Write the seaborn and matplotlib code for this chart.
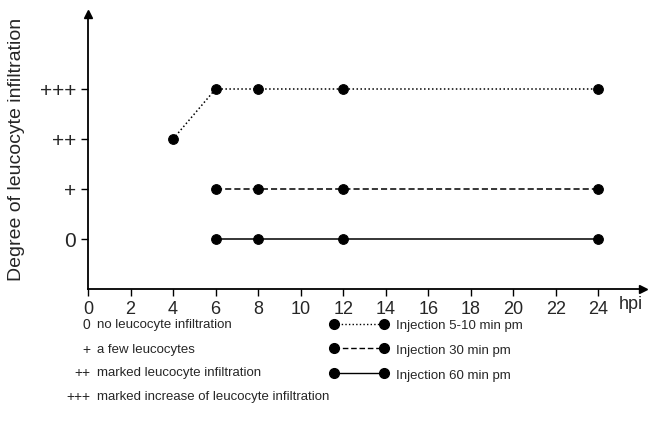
import numpy as np
import pandas as pd
import matplotlib
matplotlib.use("Agg")
import matplotlib.pyplot as plt
from matplotlib.lines import Line2D
import seaborn as sns

# ── data ──────────────────────────────────────────────────────────────
hpi_5_10 = [4, 6, 8, 12, 24]
deg_5_10 = [2, 3, 3, 3, 3]
hpi_30 = [6, 8, 12, 24]
deg_30 = [1, 1, 1, 1]
hpi_60 = [6, 8, 12, 24]
deg_60 = [0, 0, 0, 0]

series_names = ["Injection 5-10 min pm", "Injection 30 min pm", "Injection 60 min pm"]
y_ticks = [0, 1, 2, 3]
y_ticklabels = ["0", "+", "++", "+++"]
x_ticks = list(range(0, 25, 2))
key_symbols = ["0", "+", "++", "+++"]
key_texts = ["no leucocyte infiltration", "a few leucocytes",
             "marked leucocyte infiltration",
             "marked increase of leucocyte infiltration"]

df = pd.concat([
    pd.DataFrame({"hpi": hpi_5_10, "degree": deg_5_10, "series": series_names[0]}),
    pd.DataFrame({"hpi": hpi_30, "degree": deg_30, "series": series_names[1]}),
    pd.DataFrame({"hpi": hpi_60, "degree": deg_60, "series": series_names[2]}),
])

# ── style ─────────────────────────────────────────────────────────────
sns.set_theme(style="ticks")
plt.rcParams["font.family"] = ["Liberation Sans", "DejaVu Sans"]

dashes = {series_names[0]: (1, 1.6), series_names[1]: (4, 2), series_names[2]: ""}

fig = plt.figure(figsize=(6.49, 4.27), dpi=100)
ax = fig.add_axes([88 / 649, 1 - 290 / 427, (643 - 88) / 649, (290 - 15) / 427])

sns.lineplot(data=df, x="hpi", y="degree", style="series", dashes=dashes,
             markers={s: "o" for s in series_names}, color="black",
             markersize=7, markeredgecolor="black", linewidth=1.1,
             legend=False, ax=ax, sort=False)

ax.set_xlim(0, 26.1)
ax.set_ylim(-1, 4.5)
ax.set_xticks(x_ticks)
ax.set_xticklabels([str(t) for t in x_ticks], fontsize=13)
ax.set_yticks(y_ticks)
ax.set_yticklabels(y_ticklabels, fontsize=15)
ax.tick_params(axis="both", direction="out", length=5, width=1, color="black")
ax.tick_params(axis="x", pad=3)
ax.set_xlabel("")
ax.set_ylabel("Degree of leucocyte infiltration", fontsize=14)
ax.yaxis.set_label_coords(-0.113, 0.51)
sns.despine(ax=ax)
for sp in ("left", "bottom"):
    ax.spines[sp].set_linewidth(1.3)
    ax.spines[sp].set_color("black")

# axis arrows
ax.plot(1, 0, ">", transform=ax.transAxes, color="black", markersize=6, clip_on=False)
ax.plot(0, 1, "^", transform=ax.transAxes, color="black", markersize=6, clip_on=False)
ax.text(24.95, -1.3, "hpi", fontsize=13, ha="left", va="center")

# ── key below the plot ───────────────────────────────────────────────
rows_y = [325, 350, 373, 397]
for sym, txt, yy in zip(key_symbols, key_texts, rows_y):
    fig.text(90 / 649, 1 - yy / 427, sym, fontsize=10, ha="right", va="center")
    fig.text(97 / 649, 1 - yy / 427, txt, fontsize=9.5, ha="left", va="center")

handles = []
for s in series_names:
    h = Line2D([0], [0], color="black", marker="o", markersize=7, linewidth=1.0)
    if dashes[s]:
        h.set_dashes(dashes[s])
    handles.append(h)
fig.legend(handles, series_names, numpoints=2, frameon=False, fontsize=9.5,
           loc="upper left", bbox_to_anchor=(330 / 649, 1 - 320 / 427),
           handlelength=4.4, handletextpad=0.6, labelspacing=0.95,
           borderaxespad=0, borderpad=0)

fig.savefig("out.png", dpi=100)
